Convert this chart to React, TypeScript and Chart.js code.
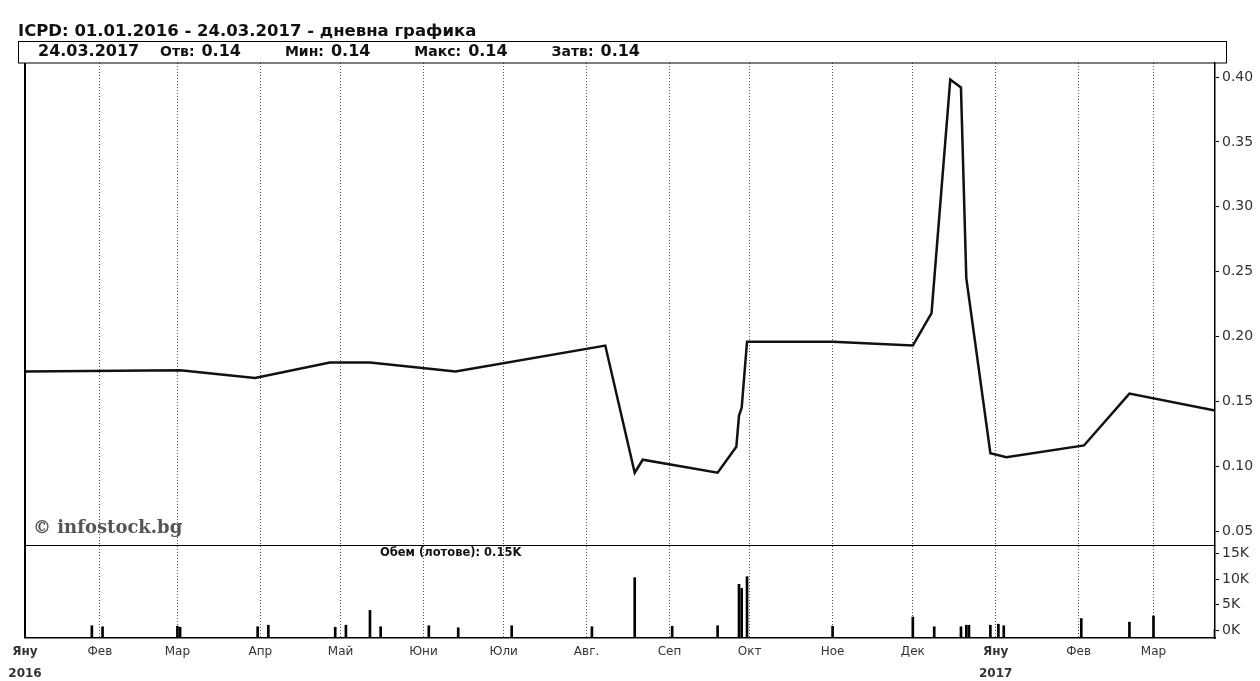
import React, { useEffect, useRef } from 'react';
import { Chart, registerables } from 'chart.js';
Chart.register(...registerables);

// ---------- data ----------
const TITLE = 'ICPD: 01.01.2016 - 24.03.2017 - дневна графика';
const lastDate = '24.03.2017';
const statLabels = ['Отв:', 'Мин:', 'Макс:', 'Затв:'];
const statValues = ['0.14', '0.14', '0.14', '0.14'];
const volumeTitle = 'Обем (лотове): 0.15K';
const watermark = '© infostock.bg';

const monthDates = [
  '2016-01-04', '2016-02-01', '2016-03-01', '2016-04-01', '2016-05-01', '2016-06-01', '2016-07-01',
  '2016-08-01', '2016-09-01', '2016-10-01', '2016-11-01', '2016-12-01', '2017-01-01', '2017-02-01', '2017-03-01',
];
const monthLabels = ['Яну', 'Фев', 'Мар', 'Апр', 'Май', 'Юни', 'Юли', 'Авг.', 'Сеп', 'Окт', 'Ное', 'Дек', 'Яну', 'Фев', 'Мар'];
const yearLabels = ['2016', '', '', '', '', '', '', '', '', '', '', '', '2017', '', ''];

const priceDates = [
  '2016-01-04', '2016-03-02', '2016-03-30', '2016-04-27', '2016-05-12', '2016-06-13', '2016-08-08',
  '2016-08-19', '2016-08-22', '2016-09-19', '2016-09-26', '2016-09-27', '2016-09-28', '2016-09-30',
  '2016-11-01', '2016-12-01', '2016-12-08', '2016-12-15', '2016-12-19', '2016-12-21', '2016-12-30',
  '2017-01-05', '2017-02-03', '2017-02-20', '2017-03-24',
];
const priceValues = [
  0.173, 0.174, 0.168, 0.180, 0.180, 0.173, 0.193,
  0.095, 0.105, 0.095, 0.115, 0.139, 0.145, 0.196,
  0.196, 0.193, 0.218, 0.398, 0.392, 0.245, 0.110,
  0.107, 0.116, 0.156, 0.143,
];
const priceTicks = [0.05, 0.1, 0.15, 0.2, 0.25, 0.3, 0.35, 0.4];

const volumeDates = [
  '2016-01-29', '2016-02-02', '2016-03-01', '2016-03-02', '2016-03-31', '2016-04-04', '2016-04-29',
  '2016-05-03', '2016-05-12', '2016-05-16', '2016-06-03', '2016-06-14', '2016-07-04', '2016-08-03',
  '2016-08-19', '2016-09-02', '2016-09-19', '2016-09-27', '2016-09-28', '2016-09-30', '2016-11-01',
  '2016-12-01', '2016-12-09', '2016-12-19', '2016-12-21', '2016-12-22', '2016-12-30', '2017-01-02',
  '2017-01-04', '2017-02-02', '2017-02-20', '2017-03-01', '2017-03-24',
];
const volumeValues = [
  900, 700, 800, 600, 700, 1000, 600,
  1000, 3900, 700, 900, 500, 900, 700,
  10300, 800, 900, 9000, 8200, 10500, 800,
  2600, 700, 700, 1000, 1000, 1000, 1200,
  900, 2300, 1600, 2800, 150,
];
const volumeTicks = [0, 5000, 10000, 15000];
const volumeTickLabels = ['0K', '5K', '10K', '15K'];

// ---------- helpers ----------
const dayIndex = (s: string) => {
  const [y, m, d] = s.split('-').map(Number);
  return (Date.UTC(y, m - 1, d) - Date.UTC(2016, 0, 1)) / 86400000;
};
const X_MIN = dayIndex('2016-01-04');
const X_MAX = dayIndex('2017-03-24');
const monthDays = monthDates.map(dayIndex);

const FONT = "'DejaVu Sans', sans-serif";
const AXIS_W = 45;
const GRID_COLOR = '#555';
const PLOT_TOP = 63;
const TITLE_Y = 32;
const BOX_TOP = 41.5;
const INFO_Y = 52;
const INFO_START = 38;
const STATS_START = 160;
const STATS_END = 640;

const monthGrid = {
  color: (ctx: any) => (ctx.index === 0 ? 'rgba(0,0,0,0)' : GRID_COLOR),
  lineWidth: 1,
  drawTicks: false,
};

const pricePlugin = {
  id: 'priceDecor',
  afterDraw(chart: any) {
    const { ctx, chartArea } = chart;
    ctx.save();
    // title
    ctx.fillStyle = '#111';
    ctx.textBaseline = 'middle';
    ctx.textAlign = 'left';
    ctx.font = `bold 16.5px ${FONT}`;
    ctx.fillText(TITLE, 18, TITLE_Y);
    // info box
    ctx.strokeStyle = '#000';
    ctx.lineWidth = 1;
    ctx.strokeRect(18.5, BOX_TOP, 1208, chartArea.top - BOX_TOP);
    const valFont = `bold 16px ${FONT}`;
    const labFont = `bold 14px ${FONT}`;
    ctx.font = valFont;
    ctx.fillText(lastDate, INFO_START, INFO_Y);
    const inner = 7;
    const widths = statLabels.map((lab, i) => {
      ctx.font = labFont;
      const a = ctx.measureText(lab).width;
      ctx.font = valFont;
      const b = ctx.measureText(statValues[i]).width;
      return a + inner + b;
    });
    const total = widths.reduce((s, w) => s + w, 0);
    const gap = (STATS_END - STATS_START - total) / (statLabels.length - 1);
    let x = STATS_START;
    statLabels.forEach((lab, i) => {
      ctx.font = labFont;
      ctx.fillText(lab, x, INFO_Y);
      const a = ctx.measureText(lab).width;
      ctx.font = valFont;
      ctx.fillText(statValues[i], x + a + inner, INFO_Y);
      x += widths[i] + gap;
    });
    // left border
    ctx.lineWidth = 2;
    ctx.beginPath();
    ctx.moveTo(chartArea.left, chartArea.top);
    ctx.lineTo(chartArea.left, chartArea.bottom);
    ctx.stroke();
    // separator
    ctx.beginPath();
    ctx.moveTo(chartArea.left, chartArea.bottom);
    ctx.lineTo(chartArea.right, chartArea.bottom);
    ctx.stroke();
    // watermark
    ctx.font = `bold 18px 'DejaVu Serif', serif`;
    ctx.fillStyle = '#555';
    ctx.fillText(watermark, 33, chartArea.bottom - 18);
    ctx.restore();
  },
};

const volumePlugin = {
  id: 'volDecor',
  beforeDraw(chart: any) {
    const { ctx, chartArea, width } = chart;
    ctx.save();
    ctx.fillStyle = '#fff';
    ctx.fillRect(chartArea.right + 2, 0, width - chartArea.right, chartArea.top);
    ctx.restore();
  },
  afterDraw(chart: any) {
    const { ctx, chartArea } = chart;
    ctx.save();
    ctx.strokeStyle = '#000';
    ctx.lineWidth = 2;
    ctx.beginPath();
    ctx.moveTo(chartArea.left, chartArea.top);
    ctx.lineTo(chartArea.left, chartArea.bottom);
    ctx.stroke();
    ctx.fillStyle = '#111';
    ctx.font = `bold 11.5px ${FONT}`;
    ctx.textBaseline = 'middle';
    ctx.fillText(volumeTitle, 380, chartArea.top + 7);
    ctx.restore();
  },
};

const fixVertical = (s: any) => {
  s.width = AXIS_W;
  s.paddingTop = 0;
  s.paddingBottom = 0;
};

export default function App() {
  const priceRef = useRef<HTMLCanvasElement>(null);
  const volRef = useRef<HTMLCanvasElement>(null);

  useEffect(() => {
    const price = new Chart(priceRef.current as HTMLCanvasElement, {
      type: 'line',
      data: {
        datasets: [
          {
            data: priceDates.map((d, i) => ({ x: dayIndex(d), y: priceValues[i] })),
            borderColor: '#111',
            borderWidth: 2.5,
            pointRadius: 0,
            tension: 0,
          },
        ],
      },
      options: {
        animation: false,
        responsive: false,
        maintainAspectRatio: false,
        layout: { padding: { left: 25, top: PLOT_TOP, right: 0, bottom: 0 } },
        plugins: { legend: { display: false }, tooltip: { enabled: false } },
        scales: {
          x: {
            type: 'linear',
            min: X_MIN,
            max: X_MAX,
            afterBuildTicks: (s: any) => { s.ticks = monthDays.map((v) => ({ value: v })); },
            afterFit: (s: any) => { s.height = 0; s.paddingLeft = 0; s.paddingRight = 0; },
            ticks: { display: false },
            grid: monthGrid,
            border: { display: false, dash: [1, 2] },
          },
          y: {
            position: 'right',
            min: 0.0385,
            max: 0.4108,
            afterBuildTicks: (s: any) => { s.ticks = priceTicks.map((v) => ({ value: v })); },
            afterFit: fixVertical,
            ticks: {
              color: '#333',
              font: { family: FONT, size: 14 },
              padding: 3,
              callback: (v: any) => Number(v).toFixed(2),
            },
            grid: { drawOnChartArea: false, drawTicks: true, tickLength: 4, color: '#000' },
            border: { display: true, color: '#000', width: 1.5 },
          },
        },
      },
      plugins: [pricePlugin],
    } as any);

    const volMin = -1500;
    const vol = new Chart(volRef.current as HTMLCanvasElement, {
      type: 'bar',
      data: {
        datasets: [
          {
            data: volumeDates.map((d, i) => ({ x: dayIndex(d), y: volumeValues[i] })),
            backgroundColor: '#000',
            barThickness: 2,
            base: volMin,
          },
        ],
      },
      options: {
        animation: false,
        responsive: false,
        maintainAspectRatio: false,
        layout: { padding: { left: 25, top: 10, right: 0, bottom: 0 } },
        plugins: { legend: { display: false }, tooltip: { enabled: false } },
        scales: {
          x: {
            type: 'linear',
            min: X_MIN,
            max: X_MAX,
            offset: false,
            afterBuildTicks: (s: any) => { s.ticks = monthDays.map((v) => ({ value: v })); },
            afterFit: (s: any) => { s.height = 43; s.paddingLeft = 0; s.paddingRight = 0; },
            ticks: {
              autoSkip: false,
              maxRotation: 0,
              padding: 2,
              color: '#333',
              font: (ctx: any) => ({
                family: FONT,
                size: 12,
                weight: yearLabels[ctx.index] ? 'bold' : 'normal',
                lineHeight: 1.9,
              }),
              callback: (_v: any, i: number) => (yearLabels[i] ? [monthLabels[i], yearLabels[i]] : monthLabels[i]),
            },
            grid: { ...monthGrid, offset: false },
            border: { display: true, color: '#000', width: 1.5, dash: [1, 2] },
          },
          y: {
            position: 'right',
            min: volMin,
            max: 16500,
            afterBuildTicks: (s: any) => { s.ticks = volumeTicks.map((v) => ({ value: v })); },
            afterFit: fixVertical,
            ticks: {
              color: '#333',
              font: { family: FONT, size: 14 },
              padding: 3,
              callback: (_v: any, i: number) => volumeTickLabels[i],
            },
            grid: { drawOnChartArea: false, drawTicks: true, tickLength: 4, color: '#000' },
            border: { display: true, color: '#000', width: 1.5 },
          },
        },
      },
      plugins: [volumePlugin],
    } as any);

    return () => {
      price.destroy();
      vol.destroy();
    };
  }, []);

  return (
    <div style={{ position: 'absolute', left: 0, top: 0, width: 1260, height: 681, background: '#fff', overflow: 'hidden' }}>
      <canvas ref={priceRef} width={1260} height={546} style={{ position: 'absolute', left: 0, top: 0, width: 1260, height: 546 }} />
      <canvas ref={volRef} width={1260} height={145} style={{ position: 'absolute', left: 0, top: 536, width: 1260, height: 145 }} />
    </div>
  );
}
